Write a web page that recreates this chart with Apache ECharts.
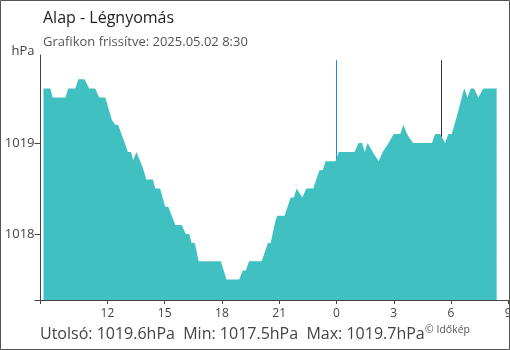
<!DOCTYPE html>
<html>
<head>
<meta charset="utf-8">
<script src="https://cdn.jsdelivr.net/npm/echarts@6/dist/echarts.min.js"></script>
<style>
  html, body { margin: 0; padding: 0; background: #fff; }
  #main { width: 510px; height: 350px; }
</style>
</head>
<body>
<div id="main"></div>
<script>
// hours relative to midnight (negative = previous day)
const hours = [-15.35, -14.99, -14.87, -14.20, -14.05, -13.68, -13.52, -13.20, -12.95, -12.64,
  -12.43, -12.11, -11.76, -11.59, -11.44, -11.02, -10.93, -10.76, -10.65, -10.48,
  -10.15, -9.96, -9.62, -9.49, -9.24, -8.97, -8.81, -8.44, -8.11, -7.89,
  -7.71, -7.59, -7.42, -7.22, -6.06, -5.76, -5.10, -4.91, -4.75, -4.58,
  -3.92, -3.59, -3.45, -3.19, -3.10, -2.72, -2.40, -2.23, -2.09, -1.79,
  -1.58, -1.22, -0.89, -0.72, -0.57, -0.05, 0.12, 0.94, 1.16, 1.34,
  1.48, 1.63, 1.90, 2.21, 2.42, 2.73, 2.99, 3.34, 3.51, 3.69,
  4.01, 5.00, 5.17, 5.43, 5.69, 5.86, 6.04, 6.39, 6.62, 6.70,
  6.86, 7.03, 7.21, 7.43, 7.69, 8.39];
const pressure = [1019.6, 1019.6, 1019.5, 1019.5, 1019.6, 1019.6, 1019.7, 1019.7, 1019.6, 1019.6,
  1019.5, 1019.5, 1019.25, 1019.2, 1019.2, 1018.96, 1018.9, 1018.9, 1018.81, 1018.9,
  1018.73, 1018.6, 1018.6, 1018.5, 1018.5, 1018.3, 1018.3, 1018.1, 1018.1, 1018.0,
  1018.0, 1017.9, 1017.9, 1017.7, 1017.7, 1017.5, 1017.5, 1017.6, 1017.6, 1017.7,
  1017.7, 1017.9, 1017.9, 1018.15, 1018.2, 1018.2, 1018.4, 1018.4, 1018.5, 1018.4,
  1018.5, 1018.5, 1018.7, 1018.7, 1018.8, 1018.8, 1018.9, 1018.9, 1019.0, 1019.0,
  1018.9, 1019.0, 1018.9, 1018.8, 1018.9, 1019.0, 1019.1, 1019.1, 1019.2, 1019.1,
  1019.0, 1019.0, 1019.1, 1019.1, 1019.0, 1019.1, 1019.1, 1019.36, 1019.55, 1019.6,
  1019.5, 1019.6, 1019.6, 1019.5, 1019.6, 1019.6];
const xTicks = [-12, -9, -6, -3, 0, 3, 6, 9];
const yTicks = [1018, 1019];
const markerHours = [0, 5.5];
const markerColors = ['#1e88e5', '#333'];

const xMin = -15.505, xMax = 9;
const yMin = 1017.275, yMax = 1019.967;

const FONT = '"Open Sans", "Noto Sans", sans-serif';

var chart = echarts.init(document.getElementById('main'), null, { renderer: 'canvas' });

var seriesData = hours.map((h, i) => [h, pressure[i]]);

// one empty series per vertical marker, drawn under the area
var markerSeries = markerHours.map((h, i) => ({
  type: 'line',
  z: 1,
  data: [],
  markLine: {
    z: 1,
    silent: true,
    symbol: ['none', 'none'],
    label: { show: false },
    lineStyle: { color: markerColors[i], width: 1, type: 'solid' },
    data: [[{ coord: [h, 1019.91] }, { coord: [h, yMin] }]]
  }
}));

var option = {
  animation: false,
  textStyle: { fontFamily: FONT },
  title: [
    {
      text: 'Alap - Légnyomás',
      left: 38, top: 5,
      textStyle: { fontFamily: FONT, fontSize: 16, fontWeight: 'normal', color: '#222' }
    },
    {
      text: 'Grafikon frissítve: 2025.05.02 8:30',
      left: 38, top: 31,
      textStyle: { fontFamily: FONT, fontSize: 13, fontWeight: 'normal', color: '#555' }
    }
  ],
  graphic: [
    {
      type: 'rect',
      shape: { x: 0.5, y: 0.5, width: 509, height: 349 },
      style: { fill: 'none', stroke: '#555', lineWidth: 1 },
      silent: true
    },
    {
      type: 'text', left: 40, top: 326,
      style: {
        text: 'Utolsó: 1019.6hPa  Min: 1017.5hPa  Max: 1019.7hPa',
        font: '16px ' + FONT, fill: '#444'
      }
    },
    {
      type: 'text', left: 425, top: 325,
      style: { text: '© Időkép', font: '10.5px ' + FONT, fill: '#555' }
    }
  ],
  grid: { left: 40.5, right: 1.7, top: 55, bottom: 50, outerBoundsMode: 'none', containLabel: false },
  xAxis: {
    type: 'value',
    min: xMin, max: xMax,
    axisLine: { show: true, onZero: false, lineStyle: { color: '#444', width: 1 } },
    axisTick: { show: true, length: 4, customValues: [xMin].concat(xTicks), lineStyle: { color: '#444' } },
    axisLabel: {
      customValues: xTicks,
      margin: 8,
      fontSize: 12, color: '#444', fontFamily: FONT,
      formatter: v => String(((v % 24) + 24) % 24)
    },
    splitLine: { show: false }
  },
  yAxis: {
    type: 'value',
    min: yMin, max: yMax,
    name: 'hPa',
    nameLocation: 'end',
    nameGap: -3,
    nameTextStyle: { fontSize: 13, color: '#444', fontFamily: FONT, align: 'right', padding: [0, 6, 0, 0] },
    axisLine: { show: true, onZero: false, lineStyle: { color: '#444', width: 1 } },
    axisTick: { show: true, length: 6, customValues: [yMin].concat(yTicks), lineStyle: { color: '#444' } },
    axisLabel: {
      customValues: yTicks, margin: 6, fontSize: 13, color: '#444', fontFamily: FONT,
      formatter: v => String(v)
    },
    splitLine: { show: false }
  },
  series: markerSeries.concat([
    {
      type: 'line',
      z: 3,
      data: seriesData,
      showSymbol: false,
      symbol: 'none',
      lineStyle: { width: 0 },
      areaStyle: { color: '#41c0c1', opacity: 1 },
      clip: false
    }
  ])
};

chart.setOption(option, true);
</script>
</body>
</html>
